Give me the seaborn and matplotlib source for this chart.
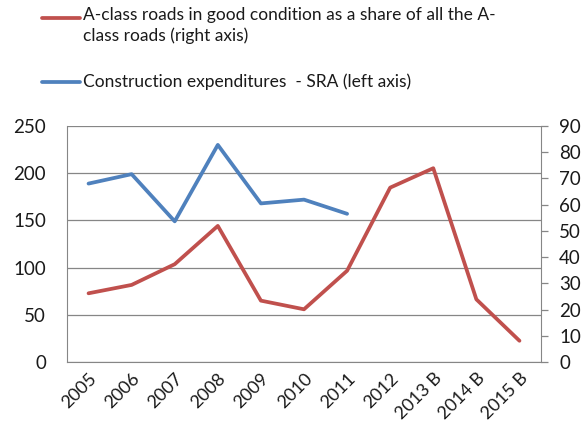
import numpy as np
import pandas as pd
import matplotlib
matplotlib.use("Agg")
import matplotlib.pyplot as plt
import matplotlib.transforms as mtransforms
from matplotlib.lines import Line2D
import seaborn as sns

years = ["2005", "2006", "2007", "2008", "2009", "2010", "2011", "2012", "2013 B", "2014 B", "2015 B"]
expenditures = [189, 199, 149, 230, 168, 172, 157]
good_share = [26.2, 29.4, 37.3, 51.9, 23.4, 20.1, 34.8, 66.5, 73.9, 23.9, 8.1]

left_ticks = [0, 50, 100, 150, 200, 250]
right_ticks = [0, 10, 20, 30, 40, 50, 60, 70, 80, 90]

label_red = "A-class roads in good condition as a share of all the A-\nclass roads (right axis)"
label_blue = "Construction expenditures  - SRA (left axis)"

RED = "#C0504D"
BLUE = "#4F81BD"
GRID = "#868686"
TXT = "#1a1a1a"

sns.set_style("white")
plt.rcParams['font.family'] = ['Lato', 'DejaVu Sans']

fig = plt.figure(figsize=(5.87, 4.32), dpi=100)
ax = fig.add_axes([67/587, 70/432, (541-67)/587, (362-126)/432])
ax2 = ax.twinx()

df_b = pd.DataFrame({"x": np.arange(len(expenditures)), "y": expenditures})
df_r = pd.DataFrame({"x": np.arange(len(good_share)), "y": good_share})

sns.lineplot(data=df_b, x="x", y="y", ax=ax, color=BLUE, linewidth=2.7, zorder=3)
sns.lineplot(data=df_r, x="x", y="y", ax=ax2, color=RED, linewidth=2.7, zorder=3)

ax.set_xlim(-0.5, len(years) - 0.5)
ax.set_ylim(0, 250)
ax2.set_ylim(0, 90)
ax.set_yticks(left_ticks)
ax2.set_yticks(right_ticks)
ax.set_xticks(np.arange(len(years)))
ax.set_xticklabels(years, rotation=45, ha="right", rotation_mode="anchor")
ax.set_xlabel("")
ax.set_ylabel("")
ax2.set_ylabel("")

offset = mtransforms.ScaledTranslation(-8/100, -9/100, fig.dpi_scale_trans)
for lbl in ax.get_xticklabels():
    lbl.set_transform(lbl.get_transform() + offset)

ax.grid(axis="y", color=GRID, linewidth=0.9)
ax.set_axisbelow(True)
for a in (ax, ax2):
    for s in a.spines.values():
        s.set_visible(False)
ax.spines["left"].set_visible(True)
ax.spines["left"].set_color(GRID)
ax.spines["bottom"].set_visible(True)
ax.spines["bottom"].set_color(GRID)
ax2.spines["right"].set_visible(True)
ax2.spines["right"].set_color(GRID)

ax.tick_params(axis="y", length=0, labelsize=13.5, pad=15, colors=TXT)
ax.tick_params(axis="x", length=0, labelsize=13, pad=6, colors=TXT)
ax2.tick_params(axis="y", length=5, width=0.9, color=GRID, labelsize=13.5, pad=8, labelcolor=TXT)

# legend (top, Excel-like)
fig.add_artist(Line2D([42/587, 80/587], [1 - 18/432, 1 - 18/432], color=RED, linewidth=2.7))
fig.add_artist(Line2D([42/587, 80/587], [1 - 82/432, 1 - 82/432], color=BLUE, linewidth=2.7))
fig.text(83/587, 1 - 7/432, label_red, fontsize=12.5, va="top", ha="left", color=TXT, linespacing=1.3)
fig.text(83/587, 1 - 82/432, label_blue, fontsize=12.5, va="center", ha="left", color=TXT)

fig.savefig("out.png", dpi=100)
